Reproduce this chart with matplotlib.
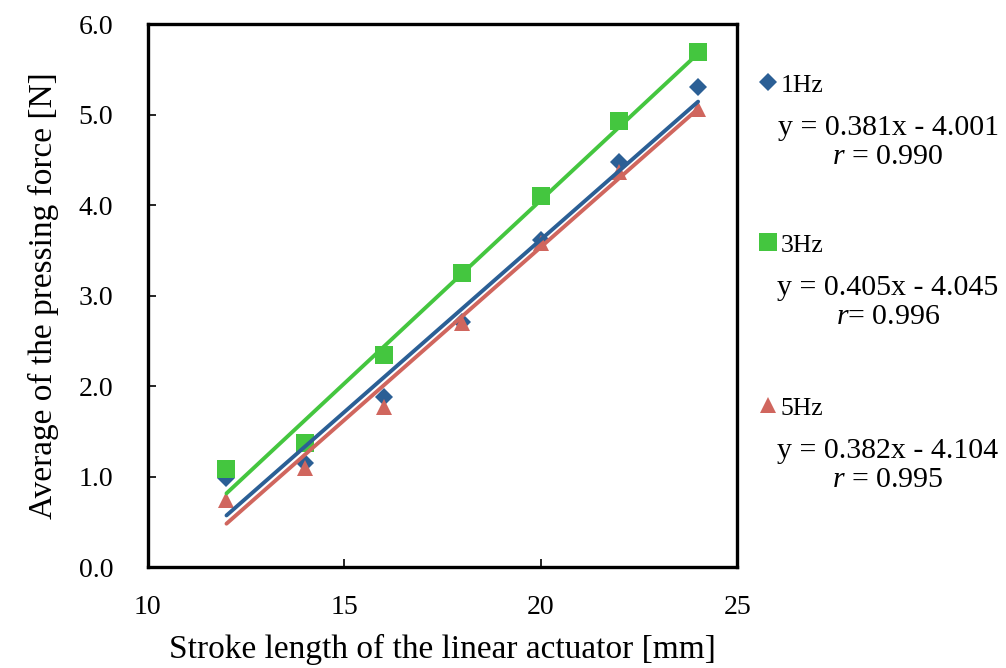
import numpy as np
import matplotlib
matplotlib.use("Agg")
import matplotlib.pyplot as plt

plt.rcParams['font.family'] = ['Liberation Serif', 'DejaVu Serif']
plt.rcParams['mathtext.fontset'] = 'custom'
plt.rcParams['mathtext.rm'] = 'Liberation Serif'
plt.rcParams['mathtext.it'] = 'Liberation Serif:italic'

# stroke length [mm]
stroke = [12, 14, 16, 18, 20, 22, 24]

# average pressing force [N]
force_1hz = [0.98, 1.15, 1.88, 2.71, 3.61, 4.48, 5.30]
force_3hz = [1.08, 1.37, 2.34, 3.25, 4.10, 4.93, 5.69]
force_5hz = [0.74, 1.10, 1.77, 2.70, 3.58, 4.36, 5.06]

# fitted lines (slope, intercept) and r
labels = ['1Hz', '3Hz', '5Hz']
slopes = [0.381, 0.405, 0.382]
intercepts = [-4.001, -4.045, -4.104]
r_text = ['$r$ = 0.990', '$r$= 0.996', '$r$ = 0.995']

colors = ['#2B5F95', '#44C63F', '#D0665E']
markers = ['D', 's', '^']
msizes = [9, 13, 12]

fig = plt.figure(figsize=(10.06, 6.68), dpi=100)
ax = fig.add_axes([0.147, 0.151, 0.586, 0.813])

x = np.array(stroke)
for ys, c, m, ms in zip([force_1hz, force_3hz, force_5hz], colors, markers, msizes):
    ax.plot(x, ys, linestyle='none', marker=m, color=c, markersize=ms,
            markeredgewidth=0, zorder=2)

for k, b, c in zip(slopes, intercepts, colors):
    ax.plot(x, k * x + b, color=c, lw=2.8, zorder=3, solid_capstyle='round')

ax.set_xlim(10, 25)
ax.set_ylim(0, 6)
ax.set_xticks([10, 15, 20, 25])
ax.set_yticks(np.arange(0, 6.1, 1.0))
ax.set_yticklabels(['%.1f' % v for v in np.arange(0, 6.1, 1.0)])
ax.tick_params(direction='in', length=6, width=1.2, labelsize=20,
               top=False, right=False)
ax.tick_params(axis='x', pad=20)
ax.tick_params(axis='y', pad=25)
for s in ax.spines.values():
    s.set_linewidth(2.4)

ax.set_xlabel('Stroke length of the linear actuator [mm]', fontsize=24, labelpad=10)
ax.set_ylabel('Average of the pressing force [N]', fontsize=24, labelpad=14)

# legend block on the right
W, H = 1006.0, 668.0
rows = [82, 242, 405]
for i in range(3):
    y0 = rows[i]
    ax.plot([768 / W], [1 - y0 / H], transform=fig.transFigure, clip_on=False,
            marker=markers[i], color=colors[i], markersize=msizes[i],
            markeredgewidth=0, linestyle='none')
    fig.text(781 / W, 1 - (y0 + 4) / H, labels[i], fontsize=18.5, va='center')
    sign = '-' if intercepts[i] < 0 else '+'
    eq = 'y = %.3fx %s %.3f' % (slopes[i], sign, abs(intercepts[i]))
    fig.text(888 / W, 1 - (y0 + 46) / H, eq, fontsize=21.5, ha='center', va='center')
    fig.text(888 / W, 1 - (y0 + 75) / H, r_text[i], fontsize=21.5, ha='center', va='center')

fig.savefig('out.png', dpi=100)
